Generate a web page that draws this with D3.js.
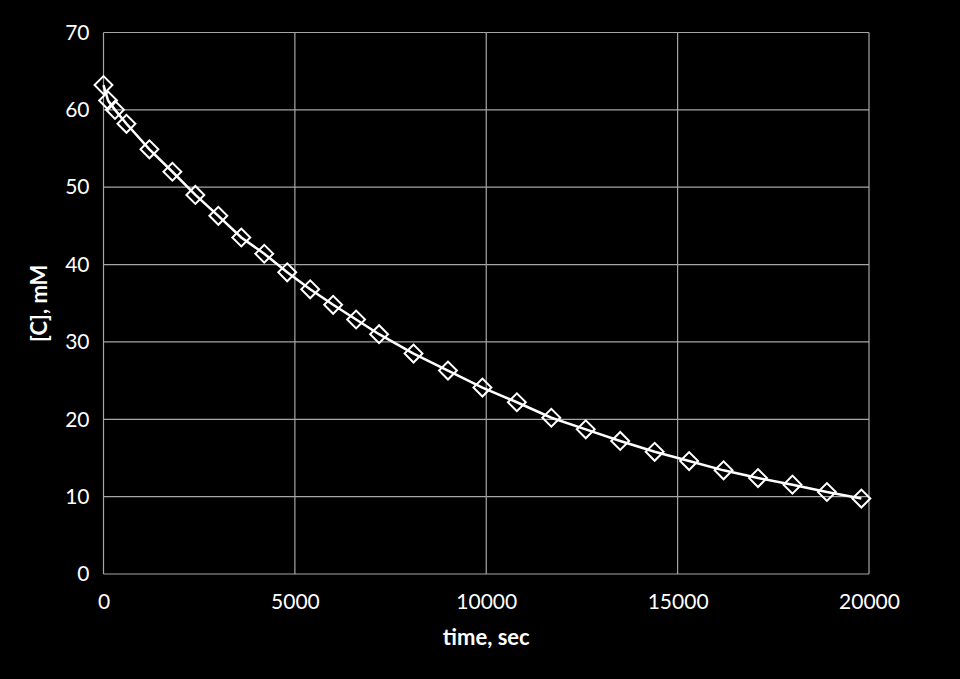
<!DOCTYPE html>
<html>
<head>
<meta charset="utf-8">
<script src="https://cdn.jsdelivr.net/npm/d3@7"></script>
<style>
  html, body { margin: 0; padding: 0; background: #000; }
  svg { display: block; }
  .tick text { font-family: Lato, "Open Sans", sans-serif; font-size: 21px; fill: #fff; }
  .axis-title { font-family: Lato, "Open Sans", sans-serif; font-size: 22px; font-weight: bold; fill: #fff; }
</style>
</head>
<body>
<div id="chart"></div>
<script>
// time (s) and concentration [C] (mM)
var times = [0, 120, 300, 600, 1200, 1800, 2400, 3000, 3600, 4200, 4800, 5400, 6000, 6600, 7200,
             8100, 9000, 9900, 10800, 11700, 12600, 13500, 14400, 15300, 16200, 17100, 18000, 18900, 19800];
var conc = [63.2, 61.2, 60.0, 58.2, 54.9, 52.0, 49.0, 46.3, 43.5, 41.4, 39.0, 36.8, 34.8, 32.9, 31.0,
            28.5, 26.3, 24.1, 22.2, 20.2, 18.7, 17.2, 15.8, 14.6, 13.4, 12.4, 11.55, 10.6, 9.75];
var xTicks = [0, 5000, 10000, 15000, 20000];
var yTicks = [0, 10, 20, 30, 40, 50, 60, 70];

var WIDTH = 960;
var HEIGHT = 679;
var margin = { left: 103.5, right: 91, top: 32.5, bottom: 105 };
var width = WIDTH - margin.left - margin.right;
var height = HEIGHT - margin.top - margin.bottom;

var data = times.map(function(t, i) { return { t: t, c: conc[i] }; });

var svg = d3.select("#chart").append("svg")
    .attr("width", WIDTH)
    .attr("height", HEIGHT)
    .style("background", "#000");

var g = svg.append("g")
    .attr("transform", "translate(" + margin.left + "," + margin.top + ")");

var xScale = d3.scaleLinear().domain([0, 20000]).range([0, width]);
var yScale = d3.scaleLinear().domain([0, 70]).range([height, 0]);

// gridlines
g.append("g").attr("class", "grid")
    .selectAll("line.h").data(yTicks).enter().append("line")
    .attr("x1", 0).attr("x2", width)
    .attr("y1", function(d) { return yScale(d); })
    .attr("y2", function(d) { return yScale(d); })
    .attr("stroke", "#a6a6a6").attr("stroke-width", 1.2);
g.append("g").attr("class", "grid")
    .selectAll("line.v").data(xTicks).enter().append("line")
    .attr("y1", 0).attr("y2", height)
    .attr("x1", function(d) { return xScale(d); })
    .attr("x2", function(d) { return xScale(d); })
    .attr("stroke", "#a6a6a6").attr("stroke-width", 1.2);

// axes (labels only)
var xAxis = d3.axisBottom(xScale).tickValues(xTicks).tickSize(0).tickPadding(20).tickFormat(d3.format("d"));
var yAxis = d3.axisLeft(yScale).tickValues(yTicks).tickSize(0).tickPadding(14).tickFormat(d3.format("d"));

g.append("g").attr("class", "axis x-axis")
    .attr("transform", "translate(0," + height + ")")
    .call(xAxis)
    .call(function(s) { s.select(".domain").remove(); });
g.append("g").attr("class", "axis y-axis")
    .call(yAxis)
    .call(function(s) { s.select(".domain").remove(); });

// line
var line = d3.line()
    .x(function(d) { return xScale(d.t); })
    .y(function(d) { return yScale(d.c); });

g.append("path")
    .datum(data)
    .attr("fill", "none")
    .attr("stroke", "#fff")
    .attr("stroke-width", 2.5)
    .attr("d", line);

// diamond markers
var diamond = d3.symbol().type(d3.symbolSquare).size(160);
g.selectAll(".marker").data(data).enter().append("path")
    .attr("class", "marker")
    .attr("d", diamond)
    .attr("transform", function(d) {
        return "translate(" + xScale(d.t) + "," + yScale(d.c) + ") rotate(45)";
    })
    .attr("fill", "none")
    .attr("stroke", "#fff")
    .attr("stroke-width", 2);

// titles
svg.append("text").attr("class", "axis-title")
    .attr("x", margin.left + width / 2)
    .attr("y", 645)
    .attr("text-anchor", "middle")
    .text("time, sec");

svg.append("text").attr("class", "axis-title")
    .attr("transform", "translate(47," + (margin.top + height / 2) + ") rotate(-90)")
    .attr("text-anchor", "middle")
    .text("[C], mM");
</script>
</body>
</html>
